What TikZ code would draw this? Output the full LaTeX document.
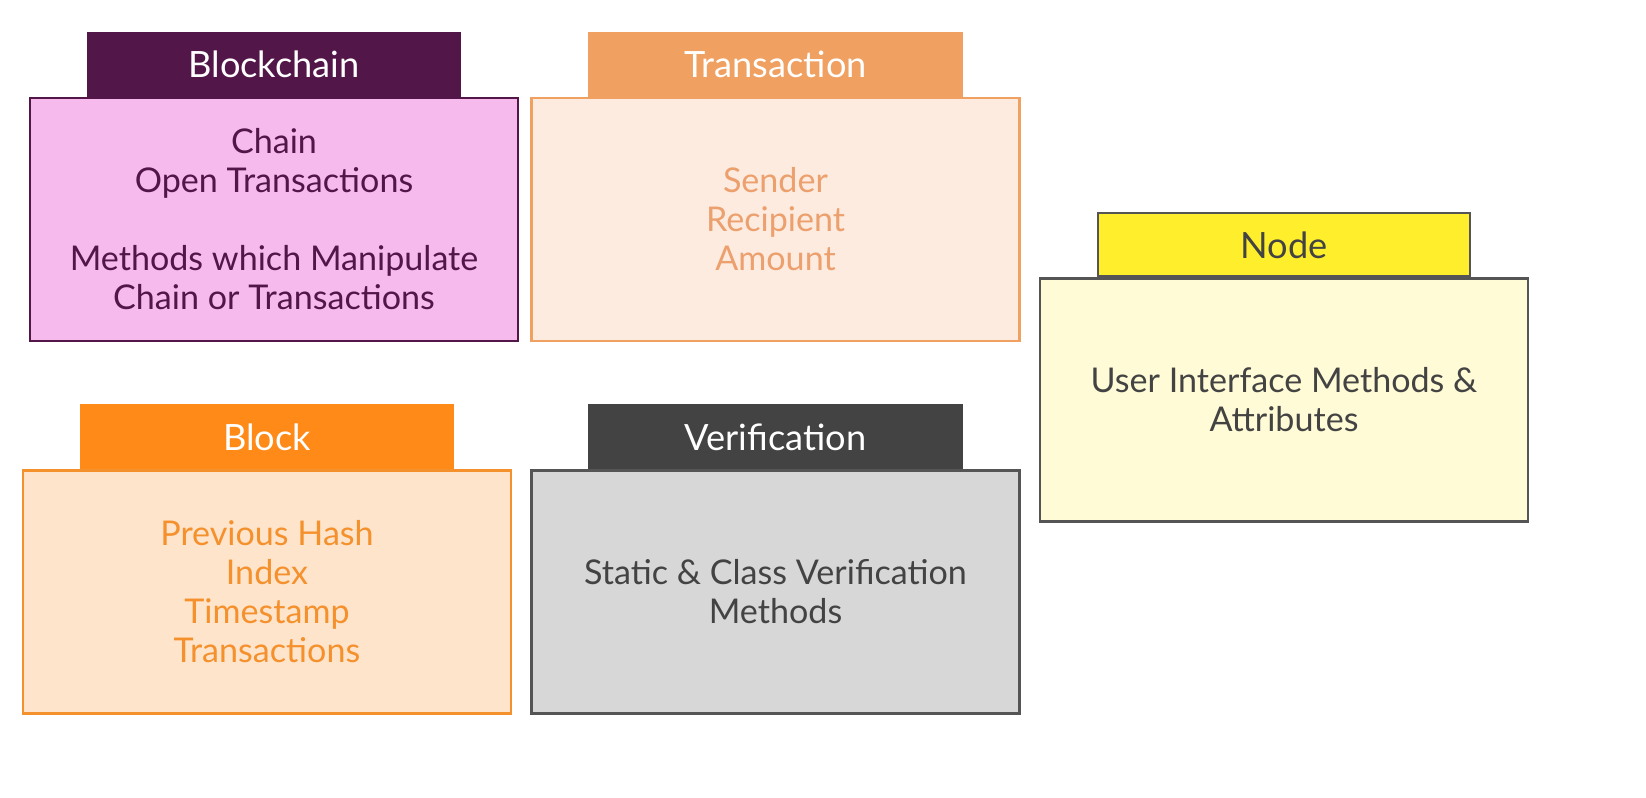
\documentclass[tikz,border=0pt]{standalone}
\usepackage{fontspec}
\setmainfont{Lato}
\usetikzlibrary{positioning}
%
\definecolor{cbc}{RGB}{82,22,73}
\definecolor{cfbc}{RGB}{246,186,237}
\definecolor{ctx}{RGB}{240,160,96}
\definecolor{cftx}{RGB}{253,235,223}
\definecolor{cltx}{RGB}{236,160,110}
\definecolor{cnd}{RGB}{255,238,43}
\definecolor{cfnd}{RGB}{255,251,214}
\definecolor{cbk}{RGB}{255,138,23}
\definecolor{cfbk}{RGB}{255,228,204}
\definecolor{clbk}{RGB}{245,145,45}
\definecolor{cvf}{RGB}{67,67,67}
\definecolor{cfvf}{RGB}{215,215,215}
\definecolor{cgr}{RGB}{85,85,85}
%
\tikzset{
  classbody/.style={draw, line width=0.6pt, minimum width=4.88cm, minimum height=2.43cm,
    inner sep=0pt, align=center, font=\fontsize{9.7}{11.1}\selectfont},
  classtab/.style={draw, line width=0.6pt, minimum width=3.72cm, minimum height=0.63cm,
    inner sep=0pt, font=\fontsize{10.3}{11}\selectfont},
}

\begin{document}
\begin{tikzpicture}
%
\useasboundingbox (0,0) rectangle (16.46,7.98);
%
% class bodies
\node[classbody, draw=cbc, fill=cfbc, text=cbc] (bc) at (2.74,5.785)
  {Chain\\Open Transactions\\[11.1pt]Methods which Manipulate\\Chain or Transactions};
\node[classbody, draw=ctx, fill=cftx, text=cltx] (tx) at (7.755,5.785)
  {Sender\\Recipient\\Amount};
\node[classbody, draw=cgr, fill=cfnd, text=cvf] (nd) at (12.84,3.98)
  {User Interface Methods \&\\Attributes};
\node[classbody, draw=clbk, fill=cfbk, text=clbk] (bk) at (2.67,2.06)
  {Previous Hash\\Index\\Timestamp\\Transactions};
\node[classbody, draw=cgr, fill=cfvf, text=cvf] (vf) at (7.755,2.06)
  {Static \& Class Verification\\Methods};
%
% class tabs
\node[classtab, draw=cbc, fill=cbc, text=white, above=0pt of bc] (bctab) {Blockchain};
\node[classtab, draw=ctx, fill=ctx, text=white, above=0pt of tx] (txtab) {Transaction};
\node[classtab, draw=cgr, fill=cnd, text=cvf, above=0pt of nd] (ndtab) {Node};
\node[classtab, draw=cbk, fill=cbk, text=white, above=0pt of bk] (bktab) {Block};
\node[classtab, draw=cvf, fill=cvf, text=white, above=0pt of vf] (vftab) {Verification};
%
\end{tikzpicture}
\end{document}
